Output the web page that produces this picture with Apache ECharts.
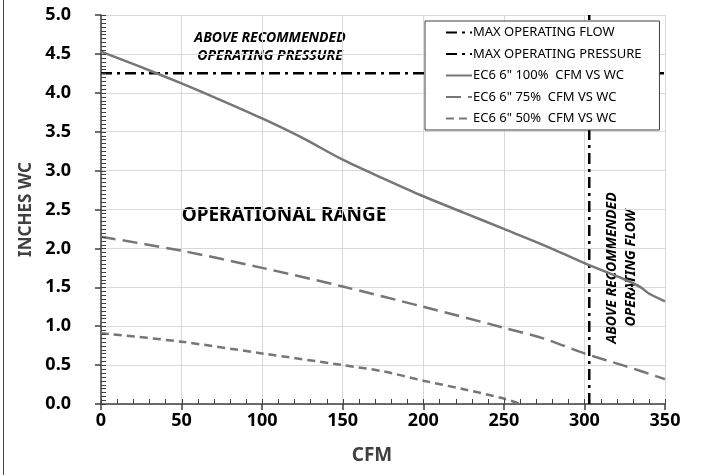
<!DOCTYPE html>
<html>
<head>
<meta charset="utf-8">
<script src="https://cdn.jsdelivr.net/npm/echarts@6/dist/echarts.min.js"></script>
<style>
  html, body { margin: 0; padding: 0; background: #fff; }
  #main { width: 711px; height: 475px; }
</style>
</head>
<body>
<div id="main"></div>
<script>
// fan curves, CFM vs inches WC
var cfm100 = [0, 25, 50, 75, 100, 125, 150, 175, 200, 225, 250, 275, 300, 325, 335, 340, 350];
var wc100 = [4.53, 4.33, 4.12, 3.90, 3.67, 3.42, 3.14, 2.90, 2.67, 2.46, 2.25, 2.04, 1.81, 1.60, 1.50, 1.42, 1.32];
var cfm75 = [0, 50, 100, 150, 200, 250, 275, 300, 325, 350];
var wc75 = [2.15, 1.97, 1.75, 1.51, 1.25, 0.98, 0.84, 0.65, 0.49, 0.32];
var cfm50 = [0, 50, 100, 150, 175, 200, 225, 250, 260];
var wc50 = [0.91, 0.80, 0.65, 0.50, 0.42, 0.30, 0.19, 0.07, 0];
var maxFlow = 303;
var maxPressure = 4.25;
var xRange = [0, 350];
var yRange = [0, 5];
var xMinorStep = 10;
var yMinorStep = 0.05;

var FONT = 'Noto Sans';

function pairs(xs, ys) {
    return xs.map(function (x, i) { return [x, ys[i]]; });
}

var chart = echarts.init(document.getElementById('main'));

var names = [
    'MAX OPERATING FLOW',
    'MAX OPERATING PRESSURE',
    'EC6 6" 100%  CFM VS WC',
    'EC6 6" 75%  CFM VS WC',
    'EC6 6" 50%  CFM VS WC'
];

var option = {
    animation: false,
    textStyle: { fontFamily: FONT },
    grid: { left: 101, right: 46, top: 15, bottom: 71 },
    legend: {
        data: names,
        orient: 'vertical',
        left: 425,
        top: 21,
        padding: [5, 18, 5, 20],
        itemGap: 8.5,
        itemWidth: 26,
        itemHeight: 14,
        backgroundColor: '#fff',
        borderColor: '#404040',
        borderWidth: 1,
        itemStyle: { opacity: 0 },
        textStyle: { fontFamily: FONT, fontSize: 13, color: '#000', padding: [0, 0, 0, -4] }
    },
    xAxis: {
        type: 'value',
        min: xRange[0], max: xRange[1], interval: 50,
        name: 'CFM',
        nameLocation: 'middle',
        nameGap: 42,
        nameTextStyle: { fontFamily: FONT, fontSize: 19, fontWeight: 'bold', color: '#404040', padding: [0, 22, 0, 0] },
        axisLine: { lineStyle: { color: '#404040', width: 1.5 } },
        axisTick: { show: true, length: 6, lineStyle: { color: '#404040', width: 1.5 } },
        axisLabel: { fontFamily: FONT, fontSize: 18, fontWeight: 'bold', color: '#000', margin: 8 },
        splitLine: { show: true, lineStyle: { color: '#d9d9d9', width: 1 } }
    },
    yAxis: {
        type: 'value',
        min: yRange[0], max: yRange[1], interval: 0.5,
        name: 'INCHES WC',
        nameLocation: 'middle',
        nameGap: 54,
        nameTextStyle: { fontFamily: FONT, fontSize: 17, fontWeight: 'bold', color: '#404040' },
        axisLine: { show: true, lineStyle: { color: '#404040', width: 1.5 } },
        axisTick: { show: true, length: 6, lineStyle: { color: '#404040', width: 1.5 } },
        axisLabel: {
            fontFamily: FONT, fontSize: 18, fontWeight: 'bold', color: '#000', margin: 30,
            formatter: function (v) { return v.toFixed(1); }
        },
        splitLine: { show: true, lineStyle: { color: '#d9d9d9', width: 1 } }
    },
    series: [{
        name: names[0],
        type: 'line',
        symbol: 'none',
        data: [[maxFlow, yRange[0]], [maxFlow, yRange[1]]],
        lineStyle: { color: '#000', width: 2.5, type: [11, 5, 3, 5] },
        itemStyle: { color: '#000' },
        z: 3
    }, {
        name: names[1],
        type: 'line',
        symbol: 'none',
        data: [[xRange[0], maxPressure], [xRange[1], maxPressure]],
        lineStyle: { color: '#000', width: 2.5, type: [11, 5, 3, 5] },
        itemStyle: { color: '#000' },
        z: 3
    }, {
        name: names[2],
        type: 'line',
        symbol: 'none',
        smooth: 0.3,
        data: pairs(cfm100, wc100),
        lineStyle: { color: '#767676', width: 2.5 },
        itemStyle: { color: '#767676' }
    }, {
        name: names[3],
        type: 'line',
        symbol: 'none',
        smooth: 0.3,
        data: pairs(cfm75, wc75),
        lineStyle: { color: '#767676', width: 2.5, type: [15, 7] },
        itemStyle: { color: '#767676' }
    }, {
        name: names[4],
        type: 'line',
        symbol: 'none',
        smooth: 0.3,
        data: pairs(cfm50, wc50),
        lineStyle: { color: '#767676', width: 2.5, type: [8, 5] },
        itemStyle: { color: '#767676' }
    }],
    graphic: [{
        type: 'line',
        shape: { x1: 3.5, y1: 0, x2: 3.5, y2: 475 },
        style: { stroke: '#404040', lineWidth: 1 }
    }, {
        type: 'text',
        x: 270, y: 47,
        style: {
            text: 'ABOVE RECOMMENDED\nOPERATING PRESSURE',
            font: 'italic bold 14px "Noto Sans"',
            fill: '#000',
            align: 'center',
            verticalAlign: 'middle',
            lineHeight: 18
        }
    }, {
        type: 'text',
        x: 284, y: 216,
        style: {
            text: 'OPERATIONAL RANGE',
            font: 'bold 19px "Noto Sans"',
            fill: '#000',
            align: 'center',
            verticalAlign: 'middle'
        }
    }, {
        type: 'text',
        x: 622, y: 268,
        rotation: Math.PI / 2,
        style: {
            text: 'ABOVE RECOMMENDED\nOPERATING FLOW',
            font: 'italic bold 14px "Noto Sans"',
            fill: '#000',
            align: 'center',
            verticalAlign: 'middle',
            lineHeight: 19
        }
    }]
};

chart.setOption(option);

// minor ticks drawn inside the plot, placed through the axis scales
var minorTicks = [];
var tickStyle = { stroke: '#404040', lineWidth: 1 };
var origin = chart.convertToPixel({ gridIndex: 0 }, [xRange[0], yRange[0]]);
var i, p;
for (i = 0; xRange[0] + i * xMinorStep <= xRange[1] + 1e-9; i++) {
    p = chart.convertToPixel({ gridIndex: 0 }, [xRange[0] + i * xMinorStep, yRange[0]]);
    minorTicks.push({
        type: 'line', silent: true, z: 5,
        shape: { x1: Math.round(p[0]) + 0.5, y1: origin[1], x2: Math.round(p[0]) + 0.5, y2: origin[1] - 5 },
        style: tickStyle
    });
}
for (i = 0; yRange[0] + i * yMinorStep <= yRange[1] + 1e-9; i++) {
    p = chart.convertToPixel({ gridIndex: 0 }, [xRange[0], yRange[0] + i * yMinorStep]);
    minorTicks.push({
        type: 'line', silent: true, z: 5,
        shape: { x1: origin[0], y1: Math.round(p[1]) + 0.5, x2: origin[0] + 5, y2: Math.round(p[1]) + 0.5 },
        style: tickStyle
    });
}
chart.setOption({ graphic: option.graphic.concat(minorTicks) });
</script>
</body>
</html>
